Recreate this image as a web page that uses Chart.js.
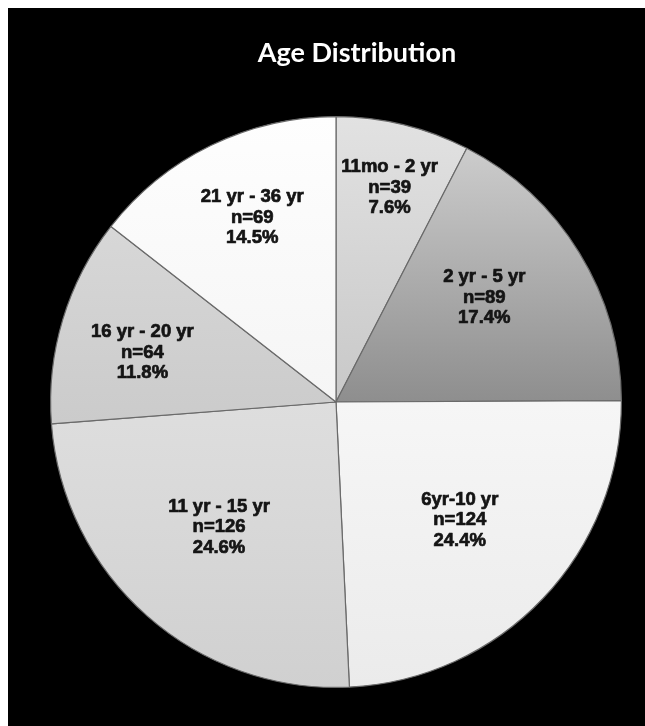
<!DOCTYPE html>
<html>
<head>
<meta charset="utf-8">
<script src="https://cdn.jsdelivr.net/npm/chart.js@4/dist/chart.umd.min.js"></script>
<style>
  html, body { margin: 0; padding: 0; background: #ffffff; }
  body { width: 645px; height: 726px; position: relative; overflow: hidden; }
  #panel { position: absolute; left: 8px; top: 8px; width: 637px; height: 718px; background: #000000; }
  #chart { display: block; }
</style>
</head>
<body>
<div id="panel"><canvas id="chart" width="637" height="718"></canvas></div>
<script>
// Age groups, counts and the percentage printed for each group
const ageGroups = ['11mo - 2 yr', '2 yr - 5 yr', '6yr-10 yr', '11 yr - 15 yr', '16 yr - 20 yr', '21 yr - 36 yr'];
const counts = [39, 89, 124, 126, 64, 69];
const percents = [7.6, 17.4, 24.4, 24.6, 11.8, 14.5];
const chartTitle = 'Age Distribution';

// Grey shading for each slice: [top colour, bottom colour]
const sliceShades = [
  ['#e2e2e2', '#c8c8c8'],
  ['#d4d4d4', '#8e8e8e'],
  ['#f6f6f6', '#ebebeb'],
  ['#dedede', '#d0d0d0'],
  ['#d8d8d8', '#cbcbcb'],
  ['#fefefe', '#f5f5f5']
];
// Where each label block sits: [fraction of radius, angle shift in degrees]
const labelSpots = [
  [0.775, 0.4], [0.635, -3.6], [0.60, 0.2], [0.60, 1.6], [0.70, -2.5], [0.71, 1.6]
];

function sliceFill(ctx) {
  const chart = ctx.chart;
  const area = chart.chartArea;
  if (!area) return sliceShades[ctx.dataIndex][0];
  const i = ctx.dataIndex;
  const cy = (area.top + area.bottom) / 2;
  let y0, y1;
  if (i <= 1 || i >= 4) { y0 = area.top; y1 = cy; } else { y0 = cy; y1 = area.bottom; }
  if (i === 4) { y0 = area.top + (cy - area.top) * 0.35; y1 = cy + 20; }
  const g = chart.ctx.createLinearGradient(0, y0, 0, y1);
  g.addColorStop(0, sliceShades[i][0]);
  g.addColorStop(1, sliceShades[i][1]);
  return g;
}

const titlePlugin = {
  id: 'panelTitle',
  afterDraw(chart) {
    const c = chart.ctx;
    c.save();
    c.fillStyle = '#ffffff';
    c.font = 'bold 27px Lato, "Open Sans", sans-serif';
    c.textAlign = 'center';
    c.textBaseline = 'alphabetic';
    c.fillText(chartTitle, 349, 54);
    c.restore();
  }
};

const sliceLabels = {
  id: 'sliceLabels',
  afterDatasetsDraw(chart) {
    const c = chart.ctx;
    const meta = chart.getDatasetMeta(0);
    c.save();
    c.fillStyle = '#141414';
    c.strokeStyle = '#141414';
    c.lineWidth = 0.7;
    c.lineJoin = 'round';
    c.font = 'bold 18.5px "Liberation Sans", Arial, sans-serif';
    c.textAlign = 'center';
    c.textBaseline = 'middle';
    meta.data.forEach((arc, i) => {
      const p = arc.getProps(['x', 'y', 'startAngle', 'endAngle', 'outerRadius'], true);
      const mid = (p.startAngle + p.endAngle) / 2 + labelSpots[i][1] * Math.PI / 180;
      const r = p.outerRadius * labelSpots[i][0];
      const x = p.x + Math.cos(mid) * r;
      const y = p.y + Math.sin(mid) * r;
      const lines = [ageGroups[i], 'n=' + counts[i], percents[i].toFixed(1) + '%'];
      lines.forEach((t, k) => {
        c.strokeText(t, x, y + (k - 1) * 20.5);
        c.fillText(t, x, y + (k - 1) * 20.5);
      });
    });
    c.restore();
  }
};

new Chart(document.getElementById('chart'), {
  type: 'pie',
  data: {
    labels: ageGroups,
    datasets: [{
      data: percents,
      backgroundColor: sliceFill,
      borderColor: '#6a6a6a',
      borderWidth: 1.2,
      hoverOffset: 0
    }]
  },
  options: {
    responsive: false,
    animation: false,
    events: [],
    layout: { padding: { left: 42, right: 23, top: 108, bottom: 38 } },
    plugins: {
      legend: { display: false },
      tooltip: { enabled: false },
      title: { display: false }
    }
  },
  plugins: [titlePlugin, sliceLabels]
});
</script>
</body>
</html>
